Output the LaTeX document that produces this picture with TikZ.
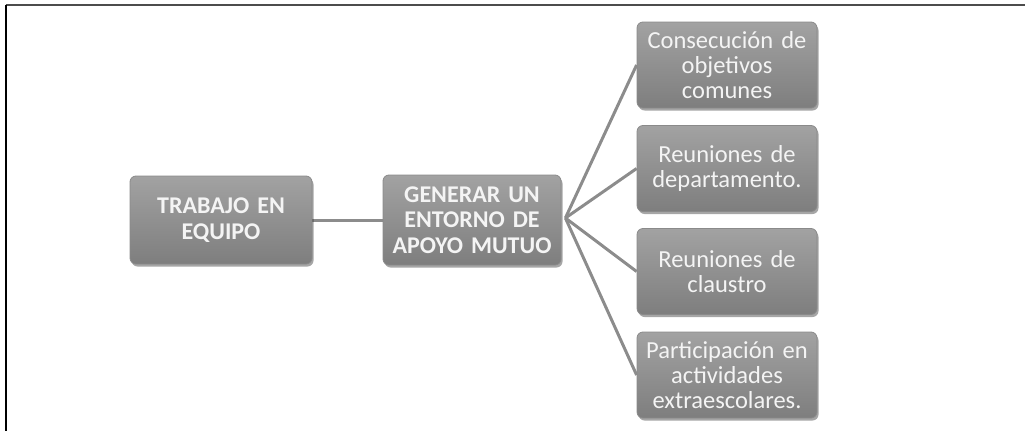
\documentclass[tikz,border=0pt]{standalone}
\usepackage{fontspec}
\setmainfont{Carlito}
\usetikzlibrary{shadows,backgrounds}
\definecolor{boxtop}{HTML}{A2A2A2}
\definecolor{boxbot}{HTML}{7E7E7E}
\definecolor{boxline}{HTML}{8A8A8A}
\definecolor{edgecol}{HTML}{8C8C8C}
\definecolor{txt}{HTML}{F4F4F4}
\tikzset{
  box/.style={rectangle, rounded corners=6pt, top color=boxtop, bottom color=boxbot,
    draw=boxline, line width=0.8pt, text=txt, align=center, inner sep=2pt,
    drop shadow={shadow xshift=1.5pt, shadow yshift=-2.5pt, opacity=0.35, fill=black},
    font=\fontsize{24.5}{25}\selectfont},
  leftbox/.style={box, minimum width=182pt, minimum height=88pt, text width=176pt, font=\fontsize{24}{25.5}\selectfont\bfseries},
  rightbox/.style={box, minimum width=180pt, minimum height=86pt, text width=176pt},
  link/.style={draw=edgecol, line width=3pt},
  frametop/.style={draw=black!70, line width=2pt},
  frameleft/.style={draw=black, line width=2pt}
}
\begin{document}
\begin{tikzpicture}[x=1pt,y=-1pt]
\useasboundingbox (0,0) rectangle (1025,431);
\coordinate (ftl) at (5.5,4.5);
\coordinate (ftr) at (1025,4.5);
\coordinate (fbl) at (5.5,431);
\draw[frametop] (ftl) -- (ftr);
\draw[frameleft] (ftl) -- (fbl);

\node[leftbox] (team) at (221,220) {TRABAJO EN\\EQUIPO};
\node[leftbox, minimum width=178pt, minimum height=90pt, text width=174pt] (env) at (472,220) {GENERAR UN\\ENTORNO DE\\APOYO MUTUO};

\node[rightbox] (a) at (727,65) {Consecución de\\objetivos\\comunes};
\node[rightbox] (b) at (727,168.5) {Reuniones de\\departamento.};
\node[rightbox] (c) at (727,271.5) {Reuniones de\\claustro};
\node[rightbox] (d) at (727,375) {Participación en\\actividades\\extraescolares.};

\begin{scope}[on background layer]
\draw[link] (team.east) -- (env.west);
\coordinate (hub) at ([xshift=4pt,yshift=2pt]env.east);
\draw[link] (hub) -- (a.west);
\draw[link] (hub) -- (b.west);
\draw[link] (hub) -- (c.west);
\draw[link] (hub) -- (d.west);
\end{scope}
\end{tikzpicture}
\end{document}
